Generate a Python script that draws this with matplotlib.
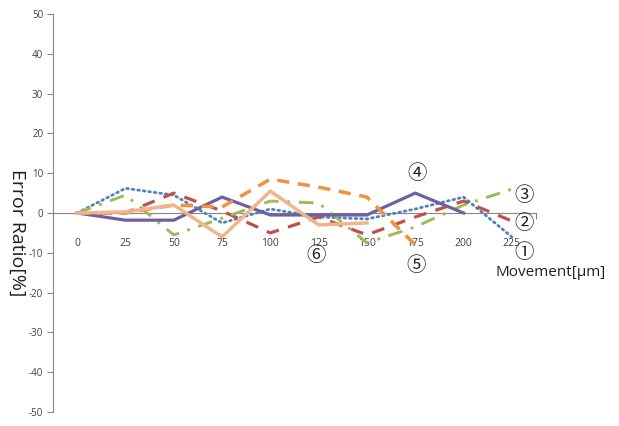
import numpy as np
import matplotlib
matplotlib.use("Agg")
import matplotlib.pyplot as plt

# Movement positions (µm) and error ratios (%) for six measurement runs
movement = [0, 25, 50, 75, 100, 125, 150, 175, 200, 225]
run1 = [0, 6.2, 4.5, -2.5, 1.0, -1.0, -1.5, 1.0, 4.0, -6.0]
run2 = [0, 0.0, 5.0, 0.5, -5.0, -1.0, -5.5, -1.0, 3.0, -2.0]
run3 = [0, 4.5, -5.5, -1.3, 3.0, 2.5, -7.5, -3.5, 2.0, 6.0]
run4 = [0, -1.8, -1.8, 4.0, -0.5, -0.5, -0.5, 5.0, 0.0]
run5 = [0, 0.0, 2.0, 1.5, 8.5, 6.5, 4.0, -8.0]
run6 = [0, 0.3, 2.0, -6.0, 5.5, -3.0, -2.5]

y_ticks = list(range(-50, 51, 10))

series = [
    (run1, dict(color="#4F81BD", linestyle=(0, (0.6, 1.4)), linewidth=2.0,
                dash_capstyle="round")),
    (run2, dict(color="#C0504D", linestyle=(0, (4, 3)), linewidth=2.3)),
    (run3, dict(color="#9BBB59", linestyle=(0, (5, 3, 1, 3)), linewidth=2.1)),
    (run4, dict(color="#7060A0", linestyle="-", linewidth=2.3)),
    (run5, dict(color="#F0923F", linestyle=(0, (3.5, 2.5)), linewidth=2.5)),
    (run6, dict(color="#F2B48C", linestyle="-", linewidth=2.5)),
]

# circled run numbers and where they sit (category index, value)
markers = ["\u2460", "\u2461", "\u2462", "\u2463", "\u2464", "\u2465"]
marker_pos = [(9.25, -9.8), (9.25, -2.6), (9.25, 4.5),
              (7.03, 9.8), (7.01, -13.3), (4.94, -10.8)]

W, H = 619, 426
fig = plt.figure(figsize=(W / 100, H / 100), dpi=100)
ax = fig.add_axes([53 / W, (H - 412) / H, (536 - 53) / W, (412 - 14) / H])

xpos = np.arange(len(movement))
for vals, style in series:
    ax.plot(xpos[:len(vals)], vals, **style, zorder=3)

ax.set_xlim(-0.5, len(movement) - 0.5)
ax.set_ylim(-50, 50)

# y axis
ax.set_yticks(y_ticks)
ax.set_yticklabels([str(v) for v in y_ticks], fontsize=7, color="#404040",
                   family="Open Sans")
ax.tick_params(axis="y", direction="out", length=4, width=0.8,
               color="#868686", pad=3)

# x axis drawn through zero with labels well below it
ax.spines["bottom"].set_position(("data", 0))
ax.spines["bottom"].set_color("#868686")
ax.spines["left"].set_color("#868686")
ax.spines["top"].set_visible(False)
ax.spines["right"].set_visible(False)
ax.set_xticks(xpos)
ax.set_xticklabels([str(m) for m in movement], fontsize=7.5, color="#404040",
                   family="Open Sans")
ax.tick_params(axis="x", length=0, pad=18)
ax.set_xticks([-0.5, len(movement) - 0.5], minor=True)
ax.tick_params(axis="x", which="minor", direction="out", length=4,
               width=0.8, color="#868686")

for txt, (mx, my) in zip(markers, marker_pos):
    ax.text(mx, my, txt, fontsize=14, ha="center", va="center",
            family=["Noto Sans CJK JP", "DejaVu Sans"], color="#202020",
            zorder=5)

fig.text(17 / W, 1 - 233 / H, "Error Ratio[%]", rotation=-90, fontsize=14,
         ha="center", va="center", family="Open Sans", color="#202020")
fig.text(551 / W, 1 - 272 / H, "Movement[\u03bcm]", fontsize=11,
         ha="center", va="center", family="Open Sans", color="#202020")

fig.savefig("out.png", dpi=100)
